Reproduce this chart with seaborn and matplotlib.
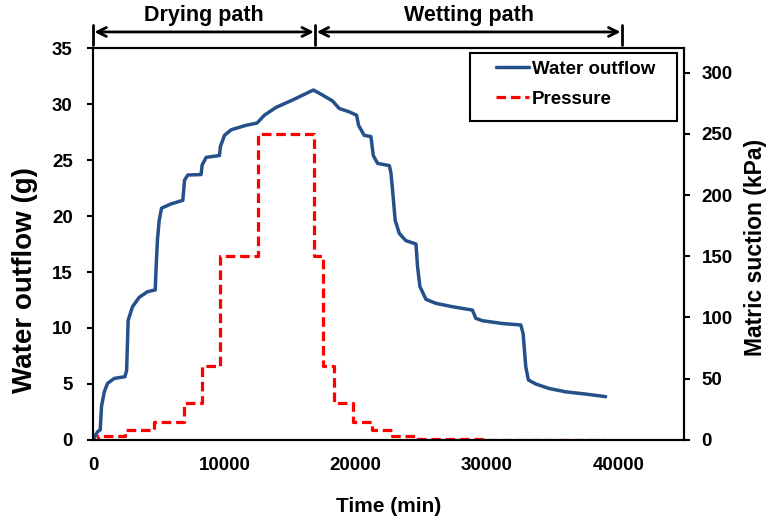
import numpy as np
import pandas as pd
import seaborn as sns
import matplotlib.pyplot as plt
from matplotlib.patches import Rectangle

# Water outflow curve (time in min, outflow in g)
time_min = [0, 350, 550, 650, 860, 1110, 1620, 2430, 2560, 2630, 2680, 3010, 3520,
            4150, 4740, 4810, 4910, 5040, 5220, 5920, 6840, 6970, 7220, 8230, 8310,
            8620, 9630, 9700, 10010, 10520, 11660, 12490, 13050, 13940, 15200, 16780,
            17480, 18240, 18750, 19510, 20070, 20220, 20650, 21160, 21340, 21670,
            22560, 22680, 22810, 23010, 23320, 23820, 24590, 24710, 24890, 25350,
            26110, 27370, 28890, 29150, 29650, 31170, 32570, 32750, 32950, 33150,
            33710, 34720, 35990, 37510, 39030]
outflow_g = [0, 0.74, 0.9, 3.0, 4.3, 5.06, 5.5, 5.65, 6.2, 8.9, 10.7, 11.9, 12.74,
             13.24, 13.4, 15.5, 17.9, 19.6, 20.7, 21.07, 21.4, 23.2, 23.66, 23.7, 24.55,
             25.24, 25.4, 26.2, 27.2, 27.7, 28.1, 28.3, 29.0, 29.7, 30.36, 31.25,
             30.8, 30.27, 29.6, 29.3, 29.0, 28.1, 27.2, 27.1, 25.4, 24.7,
             24.5, 23.9, 22.3, 19.6, 18.45, 17.8, 17.5, 15.5, 13.7, 12.56,
             12.2, 11.9, 11.6, 10.86, 10.65, 10.4, 10.27, 9.5, 6.55, 5.36,
             5.0, 4.6, 4.3, 4.1, 3.87]

# Applied pressure (matric suction) steps
step_time = [0, 350, 2430, 4660, 6940, 8280, 9680, 12580, 16850, 17480, 18370,
             19760, 21210, 22730, 24710, 29910, 39000]
step_kpa = [0, 3.5, 8, 15, 30, 60, 150, 250, 150, 60, 30, 15, 8, 3.5, 1, 0, 0]

x_ticks = [0, 10000, 20000, 30000, 40000]
left_ticks = [0, 5, 10, 15, 20, 25, 30, 35]
right_ticks = [0, 50, 100, 150, 200, 250, 300]

BLUE = "#25508a"
RED = "#ff0000"

sns.set_theme(style="white")
plt.rcParams["font.family"] = ["Liberation Sans", "DejaVu Sans"]
plt.rcParams["font.weight"] = "bold"
plt.rcParams["axes.labelweight"] = "bold"
plt.rcParams["text.color"] = "black"
plt.rcParams["axes.labelcolor"] = "black"

df_out = pd.DataFrame({"time": time_min, "outflow": outflow_g})
df_p = pd.DataFrame({"time": step_time, "kpa": step_kpa})

fig, ax = plt.subplots(figsize=(7.71, 5.18), dpi=100)
fig.subplots_adjust(left=0.1206, right=0.8872, bottom=0.1506, top=0.9073)
ax2 = ax.twinx()

sns.lineplot(data=df_out, x="time", y="outflow", ax=ax, color=BLUE, lw=2.5,
             legend=False)
sns.lineplot(data=df_p, x="time", y="kpa", ax=ax2, color=RED, lw=2.3,
             drawstyle="steps-post", legend=False)
ax2.lines[0].set_dashes([3.0, 1.5])

ax.set_xlim(0, 45000)
ax.set_ylim(0, 35)
ax2.set_ylim(0, 320)
ax.set_xticks(x_ticks)
ax.set_yticks(left_ticks)
ax2.set_yticks(right_ticks)

ax.set_xlabel("Time (min)", fontsize=15, labelpad=16)
ax.set_ylabel("Water outflow (g)", fontsize=20)
ax2.set_ylabel("Matric suction (kPa)", fontsize=16.5)
ax.yaxis.set_label_coords(-0.093, 0.408)
ax2.yaxis.set_label_coords(1.101, 0.49)

ax.tick_params(axis="x", direction="out", length=4.5, width=1.5, labelsize=13.5,
               colors="black", pad=8)
ax.tick_params(axis="y", direction="out", length=4.5, width=1.5, labelsize=13.5,
               colors="black", pad=10)
ax2.tick_params(axis="y", direction="out", length=4.5, width=1.5, labelsize=13.5,
                colors="black", pad=8)
for a in (ax, ax2):
    for s in a.spines.values():
        s.set_color("black")
        s.set_linewidth(1.5)

# Legend: box drawn separately so the padding matches the original
ax2.add_patch(Rectangle((0.638, 0.814), 0.350, 0.173, transform=ax2.transAxes,
                        facecolor="white", edgecolor="black", lw=1.5, zorder=4))
h1 = plt.Line2D([], [], color=BLUE, lw=2.5)
h2 = plt.Line2D([], [], color=RED, lw=2.3, dashes=[3.0, 1.5])
leg = ax2.legend([h1, h2], ["Water outflow", "Pressure"], loc="upper left",
                 bbox_to_anchor=(0.682, 0.968), borderaxespad=0, borderpad=0,
                 fontsize=13.5, frameon=False, handlelength=1.75,
                 handletextpad=0.15, labelspacing=0.68)
leg.set_zorder(5)

# Drying / wetting path arrows above the plot
trans = ax.get_xaxis_transform()
path_bounds = [0, 16930, 40270]
path_names = ["Drying path", "Wetting path"]
for xb in path_bounds:
    ax.plot([xb, xb], [1.008, 1.059], transform=trans, color="black", lw=2,
            clip_on=False)
for i, name in enumerate(path_names):
    x0, x1 = path_bounds[i], path_bounds[i + 1]
    ax.annotate("", xy=(x0, 1.041), xytext=(x1, 1.041), xycoords=trans,
                textcoords=trans,
                arrowprops=dict(arrowstyle="<->", lw=2, color="black",
                                mutation_scale=16, shrinkA=1, shrinkB=1))
    ax.text((x0 + x1) / 2, 1.083, name, transform=trans, ha="center",
            va="center", fontsize=15.5, fontweight="bold")

fig.savefig("out.png", dpi=100)
